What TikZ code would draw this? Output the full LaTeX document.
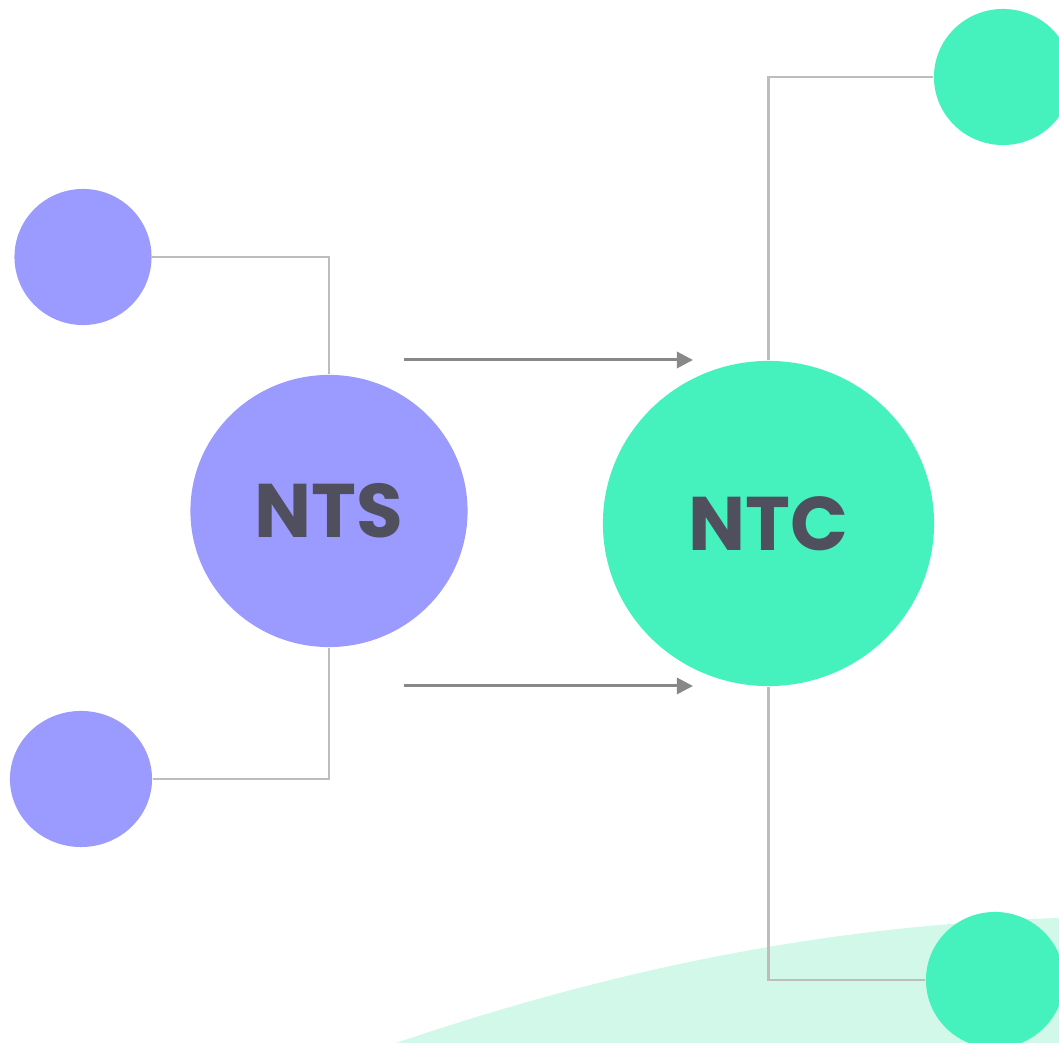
\documentclass[tikz,border=0pt]{standalone}
\usepackage{fontspec}
\setmainfont{Poppins}
\usetikzlibrary{shapes.geometric,arrows.meta}
\definecolor{violetnode}{HTML}{9A9AFF}
\definecolor{greennode}{HTML}{45F2BD}
\definecolor{greenpale}{HTML}{D2F8EA}
\definecolor{labelgray}{HTML}{4F4F5E}
\definecolor{wiregray}{HTML}{BDBDBD}
\definecolor{arrowgray}{HTML}{888888}
\begin{document}
\begin{tikzpicture}[x=0.01cm,y=-0.01cm,
        blob/.style={ellipse, inner sep=0pt, text=labelgray, font=\fontsize{21.6}{24}\selectfont\bfseries},
        wire/.style={draw=wiregray, line width=0.6pt},
        flow/.style={draw=arrowgray, line width=0.85pt, -{Triangle[length=4.6pt,width=4.6pt]}}]
        \useasboundingbox (0,0) rectangle (1059,1043);
        \clip (0,0) rectangle (1059,1043);

        \fill[greenpale] (396,1043) .. controls (646,958) and (859,924) .. (1059,918) -- (1059,1043) -- cycle;

        \node[blob, fill=violetnode, minimum width=1.37cm, minimum height=1.36cm] (tl) at (83, 257) {};
        \node[blob, fill=violetnode, minimum width=1.42cm, minimum height=1.36cm] (bl) at (81, 779) {};
        \node[blob, fill=violetnode, minimum width=2.77cm, minimum height=2.72cm] (nts) at (329, 511) {NTS};
        \node[blob, fill=greennode, minimum width=3.31cm, minimum height=3.25cm] (ntc) at (768.5, 523.5) {NTC};
        \node[blob, fill=greennode, minimum width=1.38cm, minimum height=1.36cm] (tr) at (1003, 77) {};
        \node[blob, fill=greennode, minimum width=1.38cm, minimum height=1.36cm] (br) at (995, 980) {};

        \draw[wire] (tl.east) -| (nts.north);
        \draw[wire] (nts.south) |- (bl.east);
        \draw[wire] (ntc.north) |- (tr.west);
        \draw[wire] (ntc.south) |- (br.west);

        \coordinate (up0) at (404, 360);
        \coordinate (up1) at (693, 360);
        \coordinate (dn0) at (404, 686);
        \coordinate (dn1) at (693, 686);
        \draw[flow] (up0) -- (up1);
        \draw[flow] (dn0) -- (dn1);

    \end{tikzpicture}
\end{document}
